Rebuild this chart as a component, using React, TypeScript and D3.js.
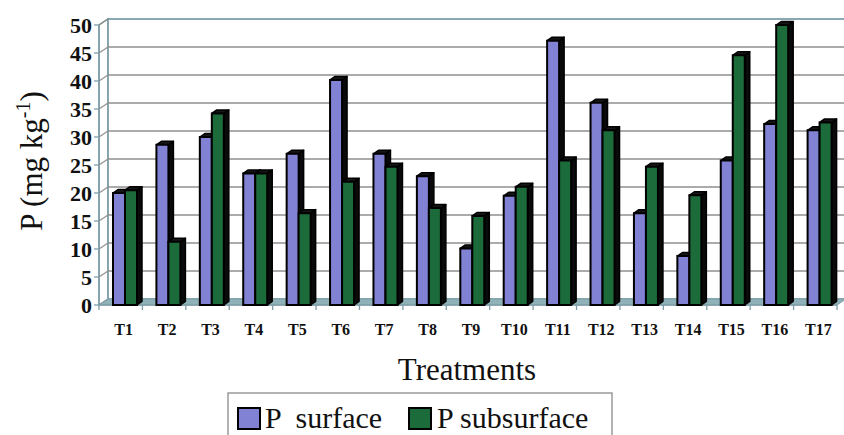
import React from "react";
import * as d3 from "d3";

// Phosphorus by treatment, surface vs subsurface layer
const treatments = ["T1","T2","T3","T4","T5","T6","T7","T8","T9","T10","T11","T12","T13","T14","T15","T16","T17"];
const pSurface = [20, 28.6, 30, 23.5, 27, 40.2, 27, 23, 10.1, 19.5, 47.2, 36.1, 16.4, 8.75, 25.8, 32.3, 31.2];
const pSubsurface = [20.5, 11.3, 34.2, 23.5, 16.4, 22, 24.7, 17.3, 15.9, 21.1, 25.8, 31.2, 24.7, 19.6, 44.6, 50, 32.6];
const seriesNames = ["P  surface", "P subsurface"];
const yTicks = [0, 5, 10, 15, 20, 25, 30, 35, 40, 45, 50];

const W = 844;
const H = 435;
const serif = "'Liberation Serif', 'Times New Roman', serif";

// plot frame (front plane) and depth offset of the 3D box
const x0 = 99, x1 = 837;
const yBase = 305, yTopV = 25;
const depth = { dx: 9, dy: -6 };
const barDepth = { dx: 5, dy: -3.5 };

const colors = ["#8282d4", "#1c6b3a"];
const wallStroke = "#7f9ea9";
const gridStroke = "#8f8f8f";

export default function App() {
  const y = d3.scaleLinear().domain([0, 50]).range([yBase, yTopV]);
  const xCat = d3.scaleBand<string>().domain(treatments).range([x0, x1]).padding(0);
  const xSer = d3.scaleBand<string>().domain(seriesNames).range([14, 38]).padding(0);
  const bw = xSer.bandwidth();
  const series = [pSurface, pSubsurface];

  const bars: React.ReactNode[] = [];
  treatments.forEach((t, i) => {
    series.forEach((vals, s) => {
      const v = vals[i];
      const bx = (xCat(t) as number) + (xSer(seriesNames[s]) as number);
      const top = y(v);
      const b = yBase;
      const { dx, dy } = barDepth;
      const front = `M${bx},${top}H${bx + bw}V${b}H${bx}Z`;
      const side = `M${bx + bw},${top}L${bx + bw + dx},${top + dy}V${b + dy}L${bx + bw},${b}Z`;
      const topFace = `M${bx},${top}L${bx + dx},${top + dy}H${bx + bw + dx}L${bx + bw},${top}Z`;
      bars.push(
        <g key={`${t}-${s}`}>
          <path d={side} fill="#0a0a0a" stroke="#000" strokeWidth={1.5} strokeLinejoin="round" />
          <path d={topFace} fill="#161616" stroke="#000" strokeWidth={1.5} strokeLinejoin="round" />
          <path d={front} fill={colors[s]} stroke="#000" strokeWidth={2} />
        </g>
      );
    });
  });

  const bx0 = x0 + depth.dx;
  const bx1 = x1 + depth.dx;

  return (
    <svg width={W} height={H} style={{ position: "absolute", left: 0, top: 0, background: "#fff" }}>
      {/* left wall and back wall */}
      <path
        d={`M${x0},${yBase}V${yTopV}L${bx0},${yTopV + depth.dy}V${yBase + depth.dy}Z`}
        fill="#fff"
        stroke={wallStroke}
        strokeWidth={1.5}
      />
      <rect
        x={bx0}
        y={yTopV + depth.dy}
        width={bx1 - bx0}
        height={yBase - yTopV}
        fill="#fff"
        stroke={wallStroke}
        strokeWidth={1.8}
      />
      {/* gridlines on both walls */}
      {yTicks.map((v) => (
        <g key={`g${v}`}>
          {v > 0 && v < 50 && (
            <line x1={bx0} x2={bx1} y1={y(v) + depth.dy} y2={y(v) + depth.dy} stroke={gridStroke} strokeWidth={1.4} />
          )}
          <line x1={x0} x2={bx0} y1={y(v)} y2={y(v) + depth.dy} stroke={gridStroke} strokeWidth={1.2} />
        </g>
      ))}
      {/* floor */}
      <path
        d={`M${x0},${yBase}H${x1}L${bx1},${yBase + depth.dy}H${bx0}Z`}
        fill="#8fb2b9"
        stroke={wallStroke}
        strokeWidth={1}
      />
      {/* value axis */}
      <line x1={x0} x2={x0} y1={yBase} y2={yTopV} stroke={wallStroke} strokeWidth={1.5} />
      {yTicks.map((v) => (
        <g key={`t${v}`}>
          <line x1={x0 - 5} x2={x0} y1={y(v)} y2={y(v)} stroke={wallStroke} strokeWidth={1.3} />
          <text
            x={92}
            y={y(v)}
            dy="0.35em"
            textAnchor="end"
            fontFamily={serif}
            fontWeight="bold"
            fontSize={22}
            fill="#111"
          >
            {v}
          </text>
        </g>
      ))}
      {/* category axis */}
      <line x1={x0} x2={x1} y1={yBase} y2={yBase} stroke={wallStroke} strokeWidth={1.3} />
      {[...treatments.map((t) => xCat(t) as number), x1].map((xv, i) => (
        <line key={`c${i}`} x1={xv} x2={xv} y1={yBase} y2={yBase + 5} stroke={wallStroke} strokeWidth={1.3} />
      ))}
      {bars}
      {treatments.map((t) => (
        <text
          key={`l${t}`}
          x={(xCat(t) as number) + xCat.bandwidth() / 2 + 3}
          y={335}
          textAnchor="middle"
          fontFamily={serif}
          fontWeight="bold"
          fontSize={16}
          fill="#111"
        >
          {t}
        </text>
      ))}
      {/* axis titles */}
      <text x={467} y={380} textAnchor="middle" fontFamily={serif} fontSize={31} fill="#111">
        Treatments
      </text>
      <text
        transform="translate(42,161) rotate(-90)"
        textAnchor="middle"
        fontFamily={serif}
        fontSize={31}
        fill="#111"
      >
        P (mg kg
        <tspan dy={-12} fontSize={20}>-1</tspan>
        <tspan dy={12}>)</tspan>
      </text>
      {/* legend */}
      <rect x={228} y={393} width={384} height={50} fill="#fff" stroke="#9a9a9a" strokeWidth={1.5} />
      <rect x={238} y={408} width={22} height={21} fill={colors[0]} stroke="#000" strokeWidth={2} />
      <text x={265} y={428} fontFamily={serif} fontSize={30} fill="#111" style={{ whiteSpace: "pre" }}>
        {seriesNames[0]}
      </text>
      <rect x={409} y={408} width={22} height={21} fill={colors[1]} stroke="#000" strokeWidth={2} />
      <text x={437} y={428} fontFamily={serif} fontSize={30} fill="#111">
        {seriesNames[1]}
      </text>
    </svg>
  );
}
